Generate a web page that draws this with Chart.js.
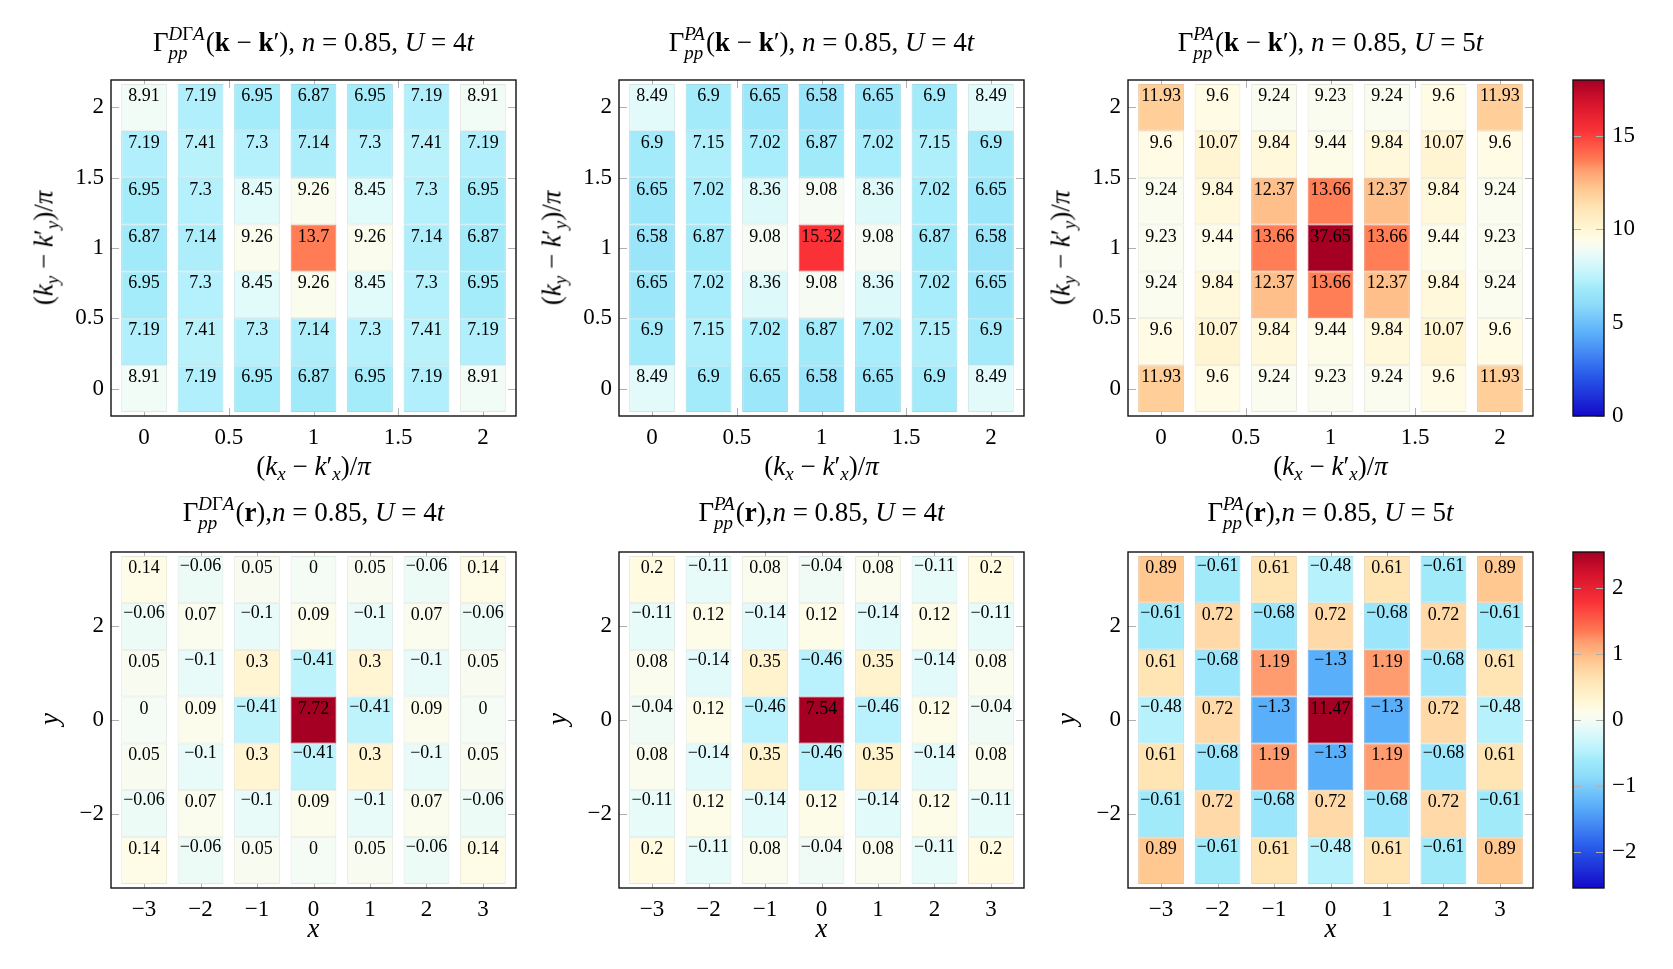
<!DOCTYPE html>
<html>
<head>
<meta charset="utf-8">
<script src="https://cdn.jsdelivr.net/npm/chart.js@4.4.1/dist/chart.umd.min.js"></script>
<style>
  html, body { margin: 0; padding: 0; background: #fff; }
  #fig { position: relative; width: 1673px; height: 969px; font-family: "Liberation Serif", "Times New Roman", Times, "DejaVu Serif", serif; color: #000; }
  canvas { position: absolute; }
  .lbl { position: absolute; transform: translate(-50%, -50%); white-space: nowrap; font-size: 27px; line-height: 1; }
  .rot { transform: translate(-50%, -50%) rotate(-90deg); }
  .ss { display: inline-block; font-size: 0.7em; vertical-align: -0.44em; line-height: 1; margin-right: 1px; }
  .ss span { display: block; }
  sub { font-size: 0.7em; vertical-align: -0.3em; line-height: 0; }
</style>
</head>
<body>
<div id="fig"></div>
<script>
// grid positions and ticks
const kGrid = [0, 1/3, 2/3, 1, 4/3, 5/3, 2];
const rGrid = [-3, -2, -1, 0, 1, 2, 3];
const kxTicks = [0, 0.5, 1, 1.5, 2];
const kyTicks = [0, 0.5, 1, 1.5, 2];
const rxTicks = [-3, -2, -1, 0, 1, 2, 3];
const ryTicks = [-2, 0, 2];
const kBarTicks = [0, 5, 10, 15];
const rBarTicks = [-2, -1, 0, 1, 2];
const kRange = [0, 18];
const rRange = [-2.55, 2.55];

// values, rows listed from top to bottom
const dgaK_U4 = [
  [8.91, 7.19, 6.95, 6.87, 6.95, 7.19, 8.91],
  [7.19, 7.41, 7.3, 7.14, 7.3, 7.41, 7.19],
  [6.95, 7.3, 8.45, 9.26, 8.45, 7.3, 6.95],
  [6.87, 7.14, 9.26, 13.7, 9.26, 7.14, 6.87],
  [6.95, 7.3, 8.45, 9.26, 8.45, 7.3, 6.95],
  [7.19, 7.41, 7.3, 7.14, 7.3, 7.41, 7.19],
  [8.91, 7.19, 6.95, 6.87, 6.95, 7.19, 8.91]
];
const paK_U4 = [
  [8.49, 6.9, 6.65, 6.58, 6.65, 6.9, 8.49],
  [6.9, 7.15, 7.02, 6.87, 7.02, 7.15, 6.9],
  [6.65, 7.02, 8.36, 9.08, 8.36, 7.02, 6.65],
  [6.58, 6.87, 9.08, 15.32, 9.08, 6.87, 6.58],
  [6.65, 7.02, 8.36, 9.08, 8.36, 7.02, 6.65],
  [6.9, 7.15, 7.02, 6.87, 7.02, 7.15, 6.9],
  [8.49, 6.9, 6.65, 6.58, 6.65, 6.9, 8.49]
];
const paK_U5 = [
  [11.93, 9.6, 9.24, 9.23, 9.24, 9.6, 11.93],
  [9.6, 10.07, 9.84, 9.44, 9.84, 10.07, 9.6],
  [9.24, 9.84, 12.37, 13.66, 12.37, 9.84, 9.24],
  [9.23, 9.44, 13.66, 37.65, 13.66, 9.44, 9.23],
  [9.24, 9.84, 12.37, 13.66, 12.37, 9.84, 9.24],
  [9.6, 10.07, 9.84, 9.44, 9.84, 10.07, 9.6],
  [11.93, 9.6, 9.24, 9.23, 9.24, 9.6, 11.93]
];
const dgaR_U4 = [
  [0.14, -0.06, 0.05, 0, 0.05, -0.06, 0.14],
  [-0.06, 0.07, -0.1, 0.09, -0.1, 0.07, -0.06],
  [0.05, -0.1, 0.3, -0.41, 0.3, -0.1, 0.05],
  [0, 0.09, -0.41, 7.72, -0.41, 0.09, 0],
  [0.05, -0.1, 0.3, -0.41, 0.3, -0.1, 0.05],
  [-0.06, 0.07, -0.1, 0.09, -0.1, 0.07, -0.06],
  [0.14, -0.06, 0.05, 0, 0.05, -0.06, 0.14]
];
const paR_U4 = [
  [0.2, -0.11, 0.08, -0.04, 0.08, -0.11, 0.2],
  [-0.11, 0.12, -0.14, 0.12, -0.14, 0.12, -0.11],
  [0.08, -0.14, 0.35, -0.46, 0.35, -0.14, 0.08],
  [-0.04, 0.12, -0.46, 7.54, -0.46, 0.12, -0.04],
  [0.08, -0.14, 0.35, -0.46, 0.35, -0.14, 0.08],
  [-0.11, 0.12, -0.14, 0.12, -0.14, 0.12, -0.11],
  [0.2, -0.11, 0.08, -0.04, 0.08, -0.11, 0.2]
];
const paR_U5 = [
  [0.89, -0.61, 0.61, -0.48, 0.61, -0.61, 0.89],
  [-0.61, 0.72, -0.68, 0.72, -0.68, 0.72, -0.61],
  [0.61, -0.68, 1.19, -1.3, 1.19, -0.68, 0.61],
  [-0.48, 0.72, -1.3, 11.47, -1.3, 0.72, -0.48],
  [0.61, -0.68, 1.19, -1.3, 1.19, -0.68, 0.61],
  [-0.61, 0.72, -0.68, 0.72, -0.68, 0.72, -0.61],
  [0.89, -0.61, 0.61, -0.48, 0.61, -0.61, 0.89]
];

// colormap (blue - white - red)
const cmapStops = [
  [0.00, [20, 10, 200]], [0.12, [40, 90, 235]], [0.245, [90, 175, 250]],
  [0.33, [140, 218, 250]], [0.38, [160, 234, 250]], [0.41, [185, 242, 252]],
  [0.47, [225, 250, 250]], [0.50, [245, 252, 245]], [0.53, [255, 252, 230]],
  [0.56, [255, 245, 210]], [0.62, [255, 228, 180]], [0.675, [255, 200, 145]],
  [0.735, [255, 155, 110]], [0.76, [255, 125, 85]], [0.85, [250, 50, 55]],
  [0.93, [215, 20, 45]], [1.00, [165, 0, 35]]
];

function cmapRGB(t) {
  t = Math.max(0, Math.min(1, t));
  for (let i = 1; i < cmapStops.length; i++) {
    const [t1, c1] = cmapStops[i];
    const [t0, c0] = cmapStops[i - 1];
    if (t <= t1) {
      const f = (t - t0) / (t1 - t0);
      return c0.map((c, j) => Math.round(c + (c1[j] - c) * f));
    }
  }
  return cmapStops[cmapStops.length - 1][1];
}
const rgb = c => `rgb(${c[0]},${c[1]},${c[2]})`;
const fmt = v => (v < 0 ? '\u2212' : '') + String(Math.abs(v));

const FONT = '"Liberation Serif", "Times New Roman", Times, "DejaVu Serif", serif';
const PL = [111, 619, 1128];
const PT = [80, 552];
const PW = 405, PH = 336;
const TOP = 30;   // room above the plot area inside each canvas
const fig = document.getElementById('fig');

function addCanvas(left, top, w, h) {
  const c = document.createElement('canvas');
  c.width = w; c.height = h;
  c.style.left = left + 'px'; c.style.top = top + 'px';
  c.style.width = w + 'px'; c.style.height = h + 'px';
  fig.appendChild(c);
  return c;
}

function addLabel(html, x, y, cls) {
  const d = document.createElement('div');
  d.className = 'lbl' + (cls ? ' ' + cls : '');
  d.style.left = x + 'px'; d.style.top = y + 'px';
  d.innerHTML = html;
  fig.appendChild(d);
}

// short grey ticks inside the frame
function drawInnerTicks(chart) {
  const { ctx, chartArea: a, scales } = chart;
  ctx.save();
  ctx.strokeStyle = '#b0b0b0';
  ctx.lineWidth = 1;
  ctx.beginPath();
  if (scales.x && scales.x.options.display !== false) {
    scales.x.ticks.forEach(t => {
      const px = Math.round(scales.x.getPixelForValue(t.value)) + 0.5;
      ctx.moveTo(px, a.bottom); ctx.lineTo(px, a.bottom - 8);
      ctx.moveTo(px, a.top); ctx.lineTo(px, a.top + 8);
    });
  }
  scales.y.ticks.forEach(t => {
    const py = Math.round(scales.y.getPixelForValue(t.value)) + 0.5;
    ctx.moveTo(a.left, py); ctx.lineTo(a.left + 8, py);
    ctx.moveTo(a.right, py); ctx.lineTo(a.right - 8, py);
  });
  ctx.stroke();
  ctx.restore();
}

function drawFrame(chart) {
  const { ctx, chartArea: a } = chart;
  ctx.save();
  ctx.strokeStyle = '#111';
  ctx.lineWidth = 1.4;
  ctx.strokeRect(a.left, a.top, a.right - a.left, a.bottom - a.top);
  ctx.restore();
}

const framePlugin = {
  id: 'frame',
  beforeDatasetsDraw: drawInnerTicks,
  afterDraw: drawFrame
};
const barFramePlugin = {
  id: 'barFrame',
  afterDraw(chart) { drawInnerTicks(chart); drawFrame(chart); }
};

// numbers written at the top of each cell
const cellTextPlugin = {
  id: 'cellText',
  afterDatasetsDraw(chart) {
    const { ctx } = chart;
    ctx.save();
    ctx.font = '18px ' + FONT;
    ctx.fillStyle = '#000';
    ctx.textAlign = 'center';
    ctx.textBaseline = 'alphabetic';
    chart.data.datasets.forEach((ds, di) => {
      chart.getDatasetMeta(di).data.forEach((el, i) => {
        const v = ds.cellValues[i];
        const top = Math.min(el.y, el.base);
        ctx.fillText(fmt(v), el.x, top + (v < 0 ? 15 : 17));
      });
    });
    ctx.restore();
  }
};

function tickScale(ticks, min, max, pad, extra) {
  return Object.assign({
    type: 'linear', min: min, max: max,
    grid: { display: false, drawTicks: false },
    border: { display: false },
    ticks: { color: '#000', padding: pad, font: { family: FONT, size: 23 }, callback: v => fmt(v) },
    afterBuildTicks: s => { s.ticks = ticks.map(v => ({ value: v })); }
  }, extra);
}

function makePanel(col, row, values, kind) {
  const centres = kind === 'k' ? kGrid : rGrid;
  const half = kind === 'k' ? 1 / 6 : 0.5;
  const lim = kind === 'k' ? [-0.195, 2.195] : [-3.585, 3.585];
  const xt = kind === 'k' ? kxTicks : rxTicks;
  const yt = kind === 'k' ? kyTicks : ryTicks;
  const range = kind === 'k' ? kRange : rRange;

  const datasets = values.map((rowVals, r) => {
    const yc = centres[centres.length - 1 - r];
    const cols = rowVals.map(v => cmapRGB((v - range[0]) / (range[1] - range[0])));
    return {
      data: centres.map(xc => ({ x: xc, y: [yc - half, yc + half] })),
      cellValues: rowVals,
      backgroundColor: cols.map(rgb),
      borderColor: cols.map(c => rgb(c.map(ch => Math.round(ch * 0.8 + 150 * 0.2)))),
      borderWidth: 1,
      borderSkipped: false,
      stack: 'grid',
      barPercentage: 0.81,
      categoryPercentage: 1
    };
  });

  const cv = addCanvas(PL[col] - 80, PT[row] - TOP, 80 + PW + 14, TOP + PH + 45);
  new Chart(cv, {
    type: 'bar',
    data: { datasets },
    plugins: [framePlugin, cellTextPlugin],
    options: {
      responsive: false,
      animation: false,
      layout: { padding: { top: TOP, right: 14, left: 0, bottom: 0 } },
      plugins: { legend: { display: false }, tooltip: { enabled: false }, title: { display: false } },
      scales: {
        x: tickScale(xt, lim[0], lim[1], 8, { stacked: true, offset: false, afterFit: s => { s.height = 45; } }),
        y: tickScale(yt, lim[0], lim[1], 7, { stacked: false, afterFit: s => { s.width = 80; } })
      }
    }
  });
}

function makeColorbar(row, range, ticks) {
  const left = 1573, w = 31;
  const cv = addCanvas(left - 10, PT[row] - TOP, 10 + w + 62, TOP + PH + 45);
  new Chart(cv, {
    type: 'bar',
    data: {
      labels: [''],
      datasets: [{
        data: [[range[0], range[1]]],
        borderWidth: 0,
        barPercentage: 1,
        categoryPercentage: 1,
        backgroundColor: (c) => {
          const chart = c.chart;
          if (!chart.chartArea) return null;
          const y = chart.scales.y;
          const g = chart.ctx.createLinearGradient(0, y.getPixelForValue(range[0]), 0, y.getPixelForValue(range[1]));
          cmapStops.forEach(s => g.addColorStop(s[0], rgb(s[1])));
          return g;
        }
      }]
    },
    plugins: [barFramePlugin],
    options: {
      responsive: false,
      animation: false,
      layout: { padding: { top: TOP, right: 0, left: 10, bottom: 45 } },
      plugins: { legend: { display: false }, tooltip: { enabled: false } },
      scales: {
        x: { display: false },
        y: tickScale(ticks, range[0], range[1], 8, { position: 'right', afterFit: s => { s.width = 62; } })
      }
    }
  });
}

Chart.defaults.font.family = FONT;

makePanel(0, 0, dgaK_U4, 'k');
makePanel(1, 0, paK_U4, 'k');
makePanel(2, 0, paK_U5, 'k');
makePanel(0, 1, dgaR_U4, 'r');
makePanel(1, 1, paR_U4, 'r');
makePanel(2, 1, paR_U5, 'r');
makeColorbar(0, kRange, kBarTicks);
makeColorbar(1, rRange, rBarTicks);

// titles and axis titles
const ssDGA = '<span class="ss"><span><i>D</i>\u0393<i>A</i></span><span><i>pp</i></span></span>';
const ssPA = '<span class="ss"><span><i>PA</i></span><span><i>pp</i></span></span>';
const kArg = '(<b>k</b> \u2212 <b>k</b>\u2032)';
const rArg = '(<b>r</b>)';
const tail = u => '<i>n</i> = 0.85, <i>U</i> = ' + u + '<i>t</i>';
const titles = [
  ['\u0393' + ssDGA + kArg + ', ' + tail(4), 0, 0],
  ['\u0393' + ssPA + kArg + ', ' + tail(4), 1, 0],
  ['\u0393' + ssPA + kArg + ', ' + tail(5), 2, 0],
  ['\u0393' + ssDGA + rArg + ',' + tail(4), 0, 1],
  ['\u0393' + ssPA + rArg + ',' + tail(4), 1, 1],
  ['\u0393' + ssPA + rArg + ',' + tail(5), 2, 1]
];
titles.forEach(([html, c, r]) => addLabel(html, PL[c] + PW / 2, r === 0 ? 44 : 514));

const kxLabel = '(<i>k</i><sub><i>x</i></sub> \u2212 <i>k</i>\u2032<sub><i>x</i></sub>)/<i>\u03c0</i>';
const kyLabel = '(<i>k</i><sub><i>y</i></sub> \u2212 <i>k</i>\u2032<sub><i>y</i></sub>)/<i>\u03c0</i>';
for (let c = 0; c < 3; c++) {
  addLabel(kxLabel, PL[c] + PW / 2, 466);
  addLabel(kyLabel, PL[c] - 67, 248, 'rot');
  addLabel('<i>x</i>', PL[c] + PW / 2, 928);
  addLabel('<i>y</i>', PL[c] - 62, 719, 'rot');
}
</script>
</body>
</html>
